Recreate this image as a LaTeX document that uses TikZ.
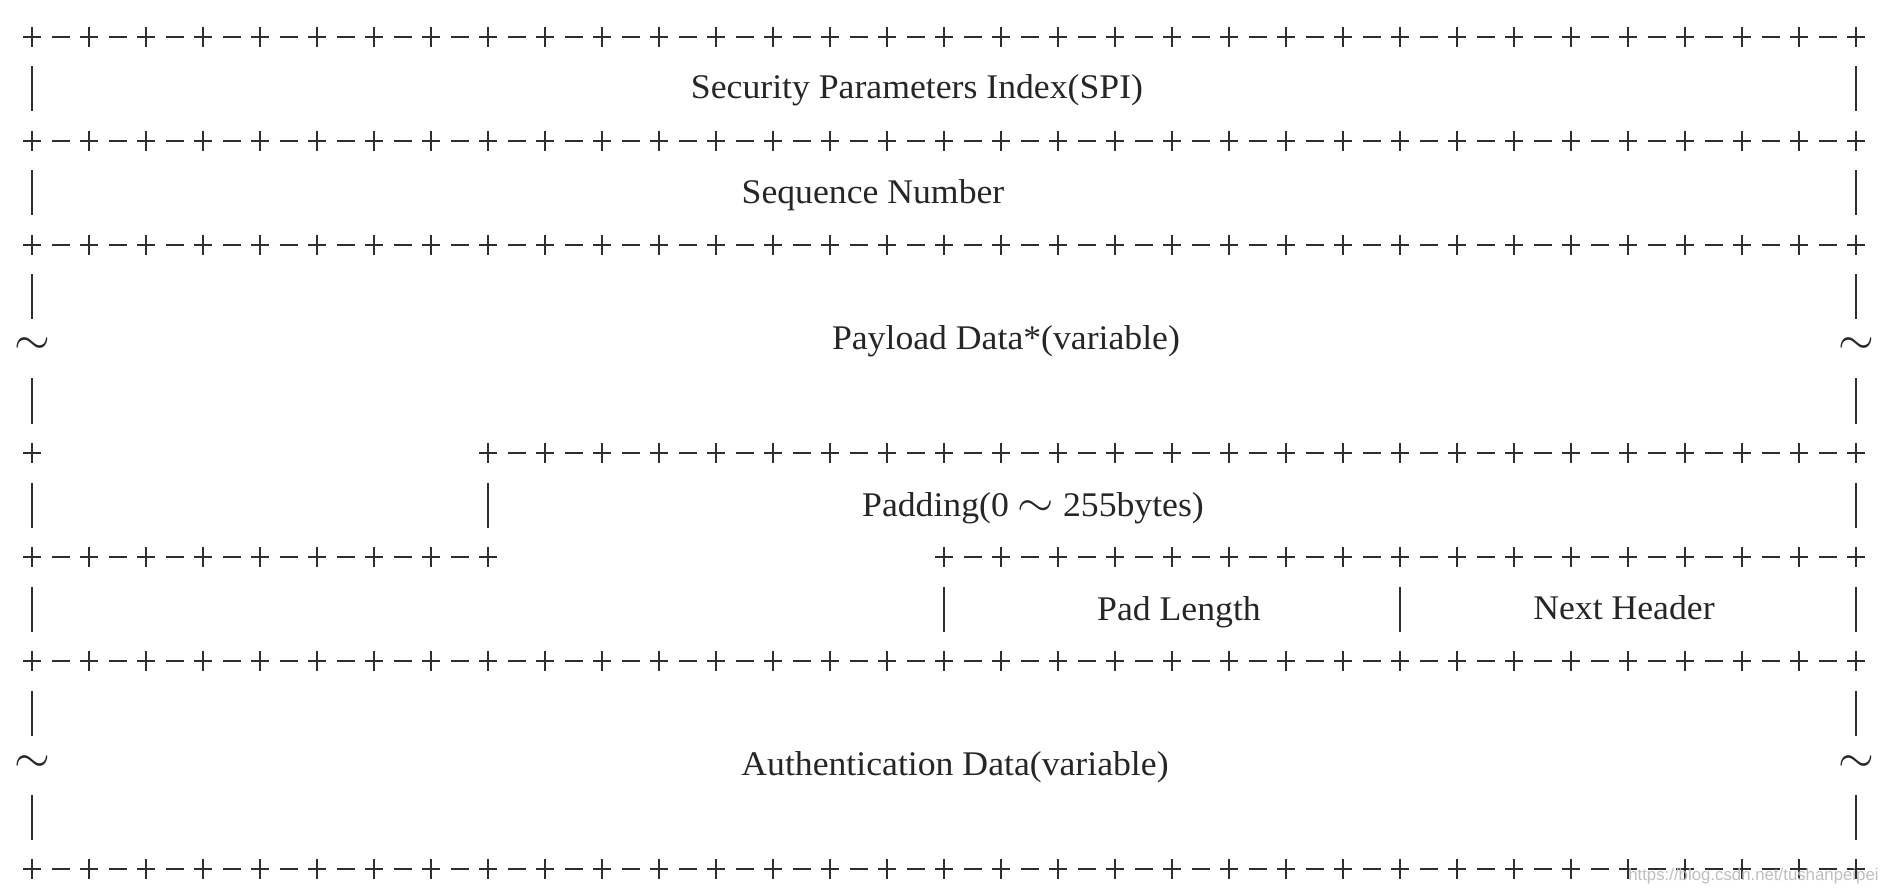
\documentclass[tikz,border=0pt]{standalone}
\usepackage{graphicx}
\usepackage{fontspec}
\newfontfamily\lblfont[FakeStretch=1.033]{Liberation Serif}
\newfontfamily\wmfont{Liberation Sans}
\begin{document}
\begin{tikzpicture}[x=0.5pt,y=-0.5pt,
  glyph/.style={draw=black!82, line width=1.3pt},
  barline/.style={draw=black!82, line width=1.1pt},
  lbl/.style={anchor=base, inner sep=0pt, text=black!85, font=\lblfont\fontsize{17.28}{20}\selectfont},
  tild/.style={inner sep=0pt, text=black!85, scale=2.3}]
\fill[white] (0,0) rectangle (1886,893);
\useasboundingbox (0,0) rectangle (1886,893);

% row of +-+-+ from column #2 to column #3 at height #1
\newcommand\plusrow[3]{%
  \foreach \k in {#2,...,#3}{%
    \draw[glyph] ({32+57*\k-9},#1) -- ++(18,0);
    \draw[glyph] ({32+57*\k},{#1-10}) -- ++(0,20);
  }%
  \pgfmathtruncatemacro\kend{#3-1}%
  \foreach \k in {#2,...,\kend}{%
    \draw[glyph] ({32+57*\k+19.5},#1) -- ++(18,0);
  }%
}
\newcommand\vbar[2]{\draw[barline] ({32+57*#1},{#2-22.5}) -- ++(0,45);}

% line 0
\plusrow{37}{0}{32}
% line 1
\vbar{0}{89}\vbar{32}{89}
\node[lbl] (spi) at (917,99) {Security Parameters Index(SPI)};
% line 2
\plusrow{141}{0}{32}
% line 3
\vbar{0}{193}\vbar{32}{193}
\node[lbl] (seq) at (873,204) {Sequence Number};
% line 4
\plusrow{245}{0}{32}
% lines 5-7
\vbar{0}{297}\vbar{32}{297}
\node[tild] (tl1) at (32,346) {$\sim$};
\node[tild] (tr1) at (1856,346) {$\sim$};
\node[lbl] (pay) at (1006,350) {Payload Data*(variable)};
\vbar{0}{401}\vbar{32}{401}
% line 8
\draw[glyph] (23,453) -- ++(18,0);
\draw[glyph] (32,443) -- ++(0,20);
\plusrow{453}{8}{32}
% line 9
\vbar{0}{505}\vbar{8}{505}\vbar{32}{505}
\node[lbl] (pad) at (1033,516) {Padding(0 \scalebox{1.35}[1.25]{$\sim$} 255bytes)};
% line 10
\plusrow{557}{0}{8}
\plusrow{557}{16}{32}
% line 11
\vbar{0}{609}\vbar{16}{609}\vbar{24}{609}\vbar{32}{609}
\node[lbl] (padlen) at (1179,620) {Pad Length};
\node[lbl] (nh) at (1624,619) {Next Header};
% line 12
\plusrow{661}{0}{32}
% lines 13-15
\vbar{0}{713}\vbar{32}{713}
\node[tild] (tl2) at (32,764) {$\sim$};
\node[tild] (tr2) at (1856,764) {$\sim$};
\node[lbl] (auth) at (955,775) {Authentication Data(variable)};
\vbar{0}{817}\vbar{32}{817}
% line 16
\plusrow{869}{0}{32}
% watermark
\node[anchor=base east, inner sep=0pt, text=black!25, font=\wmfont\fontsize{8.4}{10}\selectfont] (wm) at (1879,880) {https://blog.csdn.net/tushanpeipei};
\end{tikzpicture}
\end{document}
